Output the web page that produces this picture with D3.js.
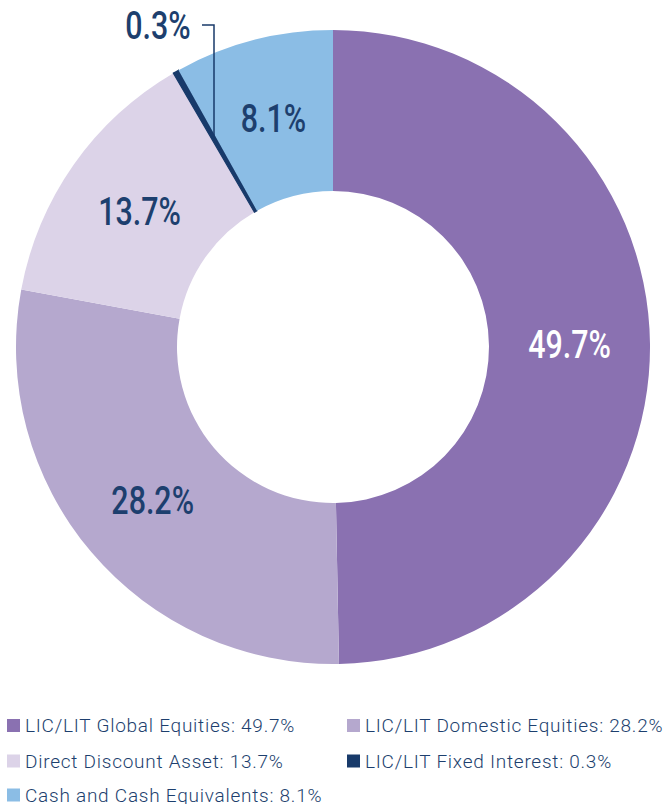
<!DOCTYPE html>
<html>
<head>
<meta charset="utf-8">
<script src="https://cdn.jsdelivr.net/npm/d3@7"></script>
<style>
  body { margin: 0; background: #fff; }
  svg { display: block; }
</style>
</head>
<body>
<div id="chart"></div>
<script>
// Asset allocation donut
const categories = [
    "LIC/LIT Global Equities",
    "LIC/LIT Domestic Equities",
    "Direct Discount Asset",
    "LIC/LIT Fixed Interest",
    "Cash and Cash Equivalents"
];
const values = [49.7, 28.2, 13.7, 0.3, 8.1];
const colors = ["#8a71b1", "#b5a8ce", "#dcd3e8", "#183a6a", "#8bbde5"];
const labelColors = ["#ffffff", "#1d3f6e", "#1d3f6e", "#1d3f6e", "#1d3f6e"];

const width = 666;
const height = 804;
const cx = 333, cy = 347;
const outerR = 317, innerR = 156;

const svg = d3.select("#chart")
    .append("svg")
    .attr("width", width)
    .attr("height", height);

const g = svg.append("g")
    .attr("transform", `translate(${cx}, ${cy})`);

const data = categories.map((c, i) => ({ name: c, value: values[i], color: colors[i], label: labelColors[i] }));

const pie = d3.pie()
    .sort(null)
    .value(d => d.value);

const arc = d3.arc()
    .innerRadius(innerR)
    .outerRadius(outerR);

const arcs = pie(data);

g.selectAll("path")
    .data(arcs)
    .enter().append("path")
    .attr("d", arc)
    .attr("fill", d => d.data.color)
    .attr("stroke", d => d.data.value < 1 ? d.data.color : "none")
    .attr("stroke-width", 1.2);

// condensed look: Roboto squeezed horizontally
const fmt = d => d3.format(".1f")(d) + "%";
const squeeze = 0.8;

function bigLabel(sel) {
    sel.attr("text-anchor", "middle")
        .attr("dy", "0.36em")
        .style("font-family", "Roboto, sans-serif")
        .style("font-size", "38px")
        .style("font-weight", 500);
}

// labels in the slices (skip the tiny one)
g.selectAll("text.slice")
    .data(arcs.filter(d => d.data.value >= 1))
    .enter().append("text")
    .attr("class", "slice")
    .attr("transform", d => `translate(${arc.centroid(d)}) scale(${squeeze},1)`)
    .call(bigLabel)
    .attr("fill", d => d.data.label)
    .text(d => fmt(d.data.value));

// leader line for the tiny slice
const tiny = arcs.find(d => d.data.value < 1);
const tinyMid = (tiny.startAngle + tiny.endAngle) / 2;
const lineX = 214 - cx;
const hitY = (lineX / Math.sin(tinyMid)) * -Math.cos(tinyMid);
const elbowY = 25 - cy;
g.append("path")
    .attr("d", d3.line()([[202 - cx, elbowY], [lineX, elbowY], [lineX, hitY]]))
    .attr("fill", "none")
    .attr("stroke", "#183a6a")
    .attr("stroke-width", 1.5);

g.append("text")
    .attr("transform", `translate(${158 - cx}, ${elbowY}) scale(${squeeze},1)`)
    .call(bigLabel)
    .attr("fill", "#1d3f6e")
    .text(fmt(tiny.data.value));

// legend
const legendCols = [7, 347];
const legendRows = [725.5, 761, 795];
const legend = svg.append("g");

const items = legend.selectAll("g")
    .data(data)
    .enter().append("g")
    .attr("transform", (d, i) => `translate(${legendCols[i % 2]}, ${legendRows[Math.floor(i / 2)]})`);

items.append("rect")
    .attr("x", 0)
    .attr("y", -6.5)
    .attr("width", 13)
    .attr("height", 13)
    .attr("fill", d => d.color);

items.append("text")
    .attr("x", 18)
    .attr("y", 0)
    .attr("dy", "0.36em")
    .style("font-family", "Roboto, sans-serif")
    .style("font-weight", 300)
    .style("font-size", "19px")
    .style("letter-spacing", "0.75px")
    .attr("fill", "#1d3f6e")
    .text(d => `${d.name}: ${fmt(d.value)}`);
</script>
</body>
</html>
